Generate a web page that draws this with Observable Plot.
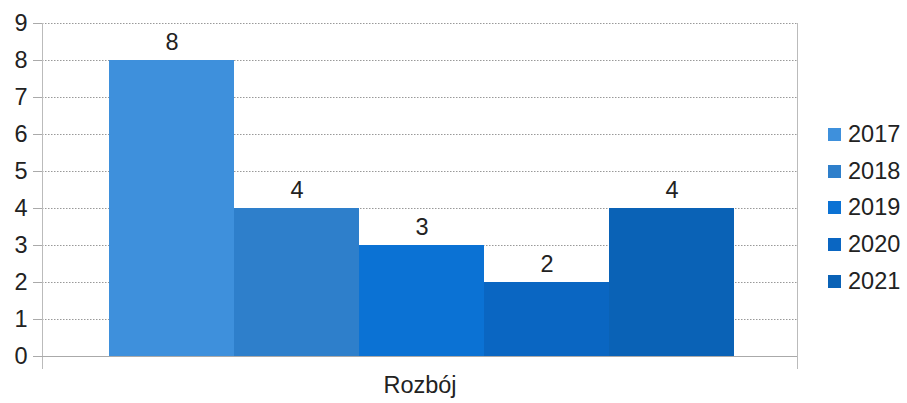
<!DOCTYPE html>
<html>
<head>
<meta charset="utf-8">
<script src="https://cdn.jsdelivr.net/npm/d3@7"></script>
<script src="https://cdn.jsdelivr.net/npm/@observablehq/plot@0.6"></script>
<style>
  html, body { margin: 0; padding: 0; background: #fff; }
  #wrap { position: relative; width: 907px; height: 403px; font-family: "Liberation Sans", Arial, sans-serif; }
  #legend { position: absolute; left: 828px; top: 116px; }
  .item { display: flex; align-items: center; height: 36.8px; font-size: 23.5px; color: #222; }
  .sw { width: 13px; height: 13px; margin-right: 7px; }
</style>
</head>
<body>
<div id="wrap"></div>
<script>
const category = ["Rozbój"];
const years = ["2017", "2018", "2019", "2020", "2021"];
const values = [8, 4, 3, 2, 4];
const colors = ["#3e90dc", "#2e7fcb", "#0b72d4", "#0a66c2", "#0a62b6"];
const yTicks = [0, 1, 2, 3, 4, 5, 6, 7, 8, 9];

const data = years.map((y, i) => ({year: y, value: values[i]}));

const chart = Plot.plot({
  width: 907,
  height: 403,
  marginLeft: 42,
  marginRight: 110,
  marginTop: 23,
  marginBottom: 47,
  style: {fontFamily: "Liberation Sans, Arial, sans-serif", fontSize: "23px", color: "#222", background: "#fff"},
  x: {domain: years, padding: 0, insetLeft: 65, insetRight: 61, axis: null},
  y: {domain: [0, 9], ticks: yTicks},
  color: {domain: years, range: colors},
  marks: [
    Plot.gridY(yTicks, {stroke: "#999", strokeOpacity: 1, strokeDasharray: "1.5,1.5", strokeWidth: 1}),
    Plot.frame({anchor: "left", stroke: "#bbb", insetBottom: -12}),
    Plot.frame({anchor: "right", stroke: "#bbb", insetBottom: -12}),
    Plot.axisY({ticks: yTicks, tickSize: 9, tickPadding: 6, stroke: "#aaa", fontSize: 23.5, label: null}),
    Plot.barY(data, {x: "year", y: "value", fill: "year"}),
    Plot.ruleY([0], {stroke: "#aaa"}),
    Plot.text(data, {x: "year", y: "value", text: "value", dy: -11, lineAnchor: "bottom", fontSize: 23.5, fill: "#222"}),
    Plot.text(category, {text: d => d, frameAnchor: "bottom", dy: 36, fontSize: 23.5, fill: "#222"})
  ]
});

const wrap = document.getElementById("wrap");
wrap.appendChild(chart);
const legend = document.createElement("div");
legend.id = "legend";
years.forEach((y, i) => {
  const it = document.createElement("div");
  it.className = "item";
  const sw = document.createElement("span");
  sw.className = "sw";
  sw.style.background = colors[i];
  const t = document.createElement("span");
  t.textContent = y;
  it.appendChild(sw);
  it.appendChild(t);
  legend.appendChild(it);
});
wrap.appendChild(legend);
</script>
</body>
</html>
